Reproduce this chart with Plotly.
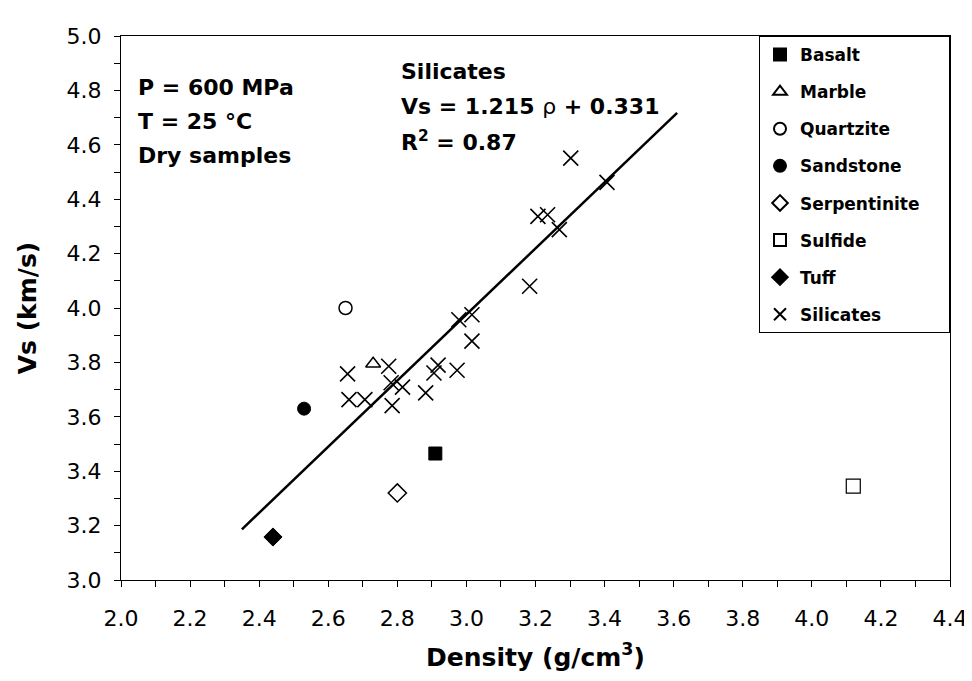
import plotly.graph_objects as go

# ---- data ----
basalt_x = [2.91]; basalt_y = [3.465]
marble_x = [2.73]; marble_y = [3.795]
quartzite_x = [2.65]; quartzite_y = [4.00]
sandstone_x = [2.53]; sandstone_y = [3.63]
serpentinite_x = [2.80]; serpentinite_y = [3.32]
sulfide_x = [4.12]; sulfide_y = [3.345]
tuff_x = [2.44]; tuff_y = [3.158]
silicates_x = [2.656, 2.660, 2.706, 2.775, 2.782, 2.815, 2.785, 2.882, 2.906, 2.918,
               2.973, 2.978, 3.016, 3.016, 3.183, 3.207, 3.235, 3.269, 3.302, 3.407]
silicates_y = [3.758, 3.663, 3.663, 3.786, 3.725, 3.709, 3.641, 3.688, 3.761, 3.790,
               3.771, 3.957, 3.975, 3.878, 4.080, 4.337, 4.343, 4.288, 4.551, 4.462]
fit_slope = 1.215
fit_intercept = 0.331
fit_x = [2.35, 3.61]
fit_y = [fit_slope * v + fit_intercept for v in fit_x]

FONT = "DejaVu Sans"
PAD = "\u00a0" * 4
fig = go.Figure()

def add(name, xs, ys, symbol, size, filled, lw=1.5, pad=""):
    fig.add_trace(go.Scatter(
        x=xs, y=ys, mode="markers", name=name + pad, legendgroup=name,
        marker=dict(symbol=symbol, size=size,
                    color="black" if filled else "white",
                    line=dict(color="black", width=lw)),
    ))

add("Basalt", basalt_x, basalt_y, "square", 13, True, 1)
add("Marble", marble_x, marble_y, "triangle-up", 13, False)
add("Quartzite", quartzite_x, quartzite_y, "circle", 13, False)
add("Sandstone", sandstone_x, sandstone_y, "circle", 13, True, 1)
add("Serpentinite", serpentinite_x, serpentinite_y, "diamond", 14, False, 1.5, PAD)
add("Sulfide", sulfide_x, sulfide_y, "square", 14, False, 1.2)
add("Tuff", tuff_x, tuff_y, "diamond", 14, True, 1)
fig.add_trace(go.Scatter(
    x=silicates_x, y=silicates_y, mode="markers", name="Silicates", legendgroup="Silicates",
    marker=dict(symbol="x-thin", size=15, color="black", line=dict(color="black", width=1.6)),
))
fig.add_trace(go.Scatter(
    x=fit_x, y=fit_y, mode="lines", showlegend=False,
    line=dict(color="black", width=2.5),
))

ann_font = dict(family=FONT, size=22, color="black", weight="bold")
left_lines = ["P = 600 MPa", "T = 25 °C", "Dry samples"]
left_y = [0.906, 0.843, 0.781]
for t, yy in zip(left_lines, left_y):
    fig.add_annotation(text=t, xref="paper", yref="paper", x=0.018, y=yy,
                       xanchor="left", yanchor="middle", showarrow=False, font=ann_font)
sil_lines = ["Silicates", "Vs = 1.215 <span style='font-weight:normal'>ρ</span> + 0.331",
             "R<sup>2</sup> = 0.87"]
sil_y = [0.935, 0.871, 0.807]
for t, yy in zip(sil_lines, sil_y):
    fig.add_annotation(text=t, xref="paper", yref="paper", x=0.335, y=yy,
                       xanchor="left", yanchor="middle", showarrow=False, font=ann_font)

axis_common = dict(
    showline=True, linecolor="black", linewidth=1.2, mirror=True,
    ticks="outside", ticklen=6, tickwidth=1, tickcolor="black",
    showgrid=False, zeroline=False, tickformat=".1f",
    tickfont=dict(family=FONT, size=22, color="black"),
    minor=dict(ticks="outside", ticklen=6, tickwidth=1, tickcolor="black", dtick=0.1, showgrid=False),
)
fig.update_xaxes(range=[2.0, 4.4], dtick=0.2, tick0=2.0, ticklabelstandoff=12,
                 title=dict(text="Density (g/cm<sup>3</sup>)", standoff=18,
                            font=dict(family=FONT, size=25, color="black", weight="bold")),
                 **axis_common)
fig.update_yaxes(range=[3.0, 5.0], dtick=0.2, tick0=3.0, ticklabelstandoff=8,
                 title=dict(text="Vs (km/s)", standoff=22,
                            font=dict(family=FONT, size=25, color="black", weight="bold")),
                 **axis_common)

fig.update_layout(
    width=972, height=681,
    margin=dict(l=113, r=21, t=28, b=109),
    paper_bgcolor="white", plot_bgcolor="white",
    showlegend=True,
    legend=dict(x=1, y=1, xanchor="right", yanchor="top",
                bgcolor="white", bordercolor="black", borderwidth=1,
                font=dict(family=FONT, size=17, color="black", weight="bold"),
                tracegroupgap=12, itemsizing="constant"),
)
fig.write_html("out.html")
